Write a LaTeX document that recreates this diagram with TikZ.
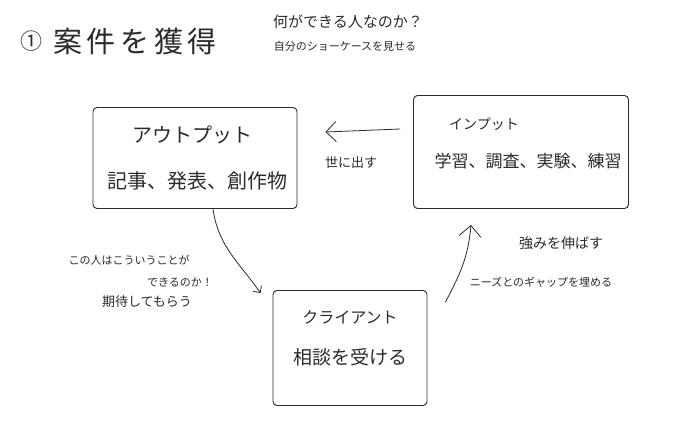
\documentclass[tikz,border=0pt]{standalone}
\usepackage{fontspec}
\setmainfont{Noto Sans CJK JP}
\usetikzlibrary{arrows.meta,calc}
\definecolor{ink}{HTML}{2B2B2B}
\begin{document}
\begin{tikzpicture}[x=1pt,y=-1pt,
  box/.style={draw=ink, line width=0.9pt, rounded corners=4pt, inner sep=0pt},
  tx/.style={text=ink, inner sep=0pt, anchor=center},
  arr/.style={draw=ink, line width=0.8pt, -{Straight Barb[length=#1,width=2*#1]}},
  arr/.default=8pt]
\useasboundingbox[fill=white] (0,0) rectangle (680,439);
% title
\node[tx] (num) at (31,41) {\fontsize{22}{22}\selectfont ①};
\node[tx, anchor=west] (title) at (53,41) {\fontsize{29}{29}\selectfont\addfontfeature{LetterSpace=16}案件を獲得};
\node[tx] (sub1) at (348,22) {\fontsize{15}{15}\selectfont 何ができる人なのか？};
\node[tx] (sub2) at (345,46) {\fontsize{11}{11}\selectfont 自分のショーケースを見せる};
% boxes
\node[box, minimum width=204pt, minimum height=101pt] (out) at (195,158) {};
\node[box, minimum width=215pt, minimum height=113pt] (in) at (521,152) {};
\node[box, minimum width=154pt, minimum height=115pt] (cl) at (350,348) {};
% box texts
\node[tx] (outA) at (192,135) {\fontsize{20}{20}\selectfont アウトプット};
\node[tx] (outB) at (197,181) {\fontsize{20}{20}\selectfont 記事、発表、創作物};
\node[tx] (inA) at (484,124) {\fontsize{14}{14}\selectfont インプット};
\node[tx] (inB) at (528,161) {\fontsize{17}{17}\selectfont 学習、調査、実験、練習};
\node[tx] (clA) at (350,317) {\fontsize{16}{16}\selectfont クライアント};
\node[tx] (clB) at (350,357) {\fontsize{19}{19}\selectfont 相談を受ける};
% labels
\node[tx] (lbl1) at (351,163) {\fontsize{13}{13}\selectfont 世に出す};
\node[tx] (lbl2a) at (129,260) {\fontsize{11}{11}\selectfont この人はこういうことが};
\node[tx] (lbl2b) at (180,282) {\fontsize{11}{11}\selectfont できるのか！};
\node[tx] (lbl2c) at (147,302) {\fontsize{13}{13}\selectfont 期待してもらう};
\node[tx] (lbl3a) at (561,243) {\fontsize{14}{14}\selectfont 強みを伸ばす};
\node[tx] (lbl3b) at (541,282) {\fontsize{11}{11}\selectfont ニーズとのギャップを埋める};
% connector end points
\coordinate (a1s) at ($(in.west)+(-13,-23)$);
\coordinate (a1e) at ($(out.east)+(28,-26)$);
\coordinate (a2s) at ($(out.south)+(18,0)$);
\coordinate (a2e) at ($(cl.north west)+(-12,3)$);
\coordinate (a3s) at ($(cl.east)+(18,-46)$);
\coordinate (a3e) at ($(in.south)+(-50,16)$);
% connectors
\draw[arr=10pt] (a1s) -- (a1e);
\draw[arr=5pt] (a2s) to[out=-82,in=125] (a2e);
\draw[arr=11pt] (a3s) to[out=62,in=-95] (a3e);
\end{tikzpicture}
\end{document}
